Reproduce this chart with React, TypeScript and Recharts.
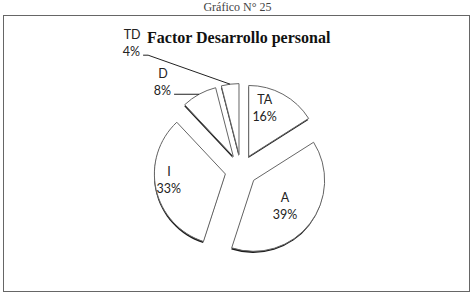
import React from 'react';
import { PieChart, Pie, Cell } from 'recharts';

const categories = ['TA', 'A', 'I', 'D', 'TD'];
const percents = [16, 39, 33, 8, 4];

const data = categories.map((name, i) => ({ name, value: percents[i] }));

const CENTER_X = 236;
const CENTER_Y = 165.5;
const RADIUS = 71;
const EXPLODE = 16;
const SHADOW = { dx: -0.4, dy: 1.6 };
const INSIDE_SHIFT = { dx: -8, dy: -5 };

const total = percents.reduce((a, b) => a + b, 0);

// clockwise angle (from 12 o'clock) of each slice's middle
const midClock = (i: number) => {
  const before = percents.slice(0, i).reduce((a, b) => a + b, 0);
  return ((before + percents[i] / 2) / total) * 360;
};

const offsetOf = (i: number) => {
  const a = (midClock(i) * Math.PI) / 180;
  return { dx: EXPLODE * Math.sin(a), dy: -EXPLODE * Math.cos(a) };
};

// outside labels for the small slices: leader end relative to the slice's outer point
const leaders: Record<string, { dx: number; dy: number; tail: number }> = {
  D: { dx: -25, dy: 0, tail: 0 },
  TD: { dx: -82, dy: -29, tail: 5 },
};

const labelFont = { fontFamily: 'Lato, "Open Sans", sans-serif', fontSize: 12.5, fill: '#222' };

const makeLabel = (layer: number) => (props: any) => {
  const { cx, cy, midAngle, outerRadius, index, name, value } = props;
  if (index !== layer) return null;
  const rad = Math.PI / 180;
  const cos = Math.cos(-midAngle * rad);
  const sin = Math.sin(-midAngle * rad);
  const lead = leaders[name];
  if (!lead) {
    const x = cx + outerRadius * 0.7 * cos + INSIDE_SHIFT.dx;
    const y = cy + outerRadius * 0.7 * sin + INSIDE_SHIFT.dy;
    return (
      <g>
        <text x={x} y={y - 8} textAnchor="middle" dominantBaseline="central" {...labelFont}>{name}</text>
        <text x={x} y={y + 9} textAnchor="middle" dominantBaseline="central" {...labelFont}>{`${value}%`}</text>
      </g>
    );
  }
  const ox = cx + outerRadius * cos;
  const oy = cy + outerRadius * sin;
  const ex = ox + lead.dx;
  const ey = oy + lead.dy;
  const pts = `${ox},${oy} ${ex},${ey} ${ex - lead.tail},${ey}`;
  const tx = ex - lead.tail - 3;
  return (
    <g>
      <polyline points={pts} fill="none" stroke="#222" strokeWidth={1} />
      <text x={tx - 8} y={ey - 21} textAnchor="middle" dominantBaseline="central" {...labelFont}>{name}</text>
      <text x={tx} y={ey - 4} textAnchor="end" dominantBaseline="central" {...labelFont}>{`${value}%`}</text>
    </g>
  );
};

const App: React.FC = () => {
  return (
    <div style={{ position: 'absolute', left: 0, top: 0, width: 475, height: 302, background: '#fff', overflow: 'hidden' }}>
      <div
        style={{
          position: 'absolute', left: 0, width: 475, top: 1, textAlign: 'center',
          fontFamily: '"Liberation Serif", serif', fontSize: 12, lineHeight: '12px', color: '#444',
        }}
      >
        Gráfico N° 25
      </div>
      <div style={{ position: 'absolute', left: 3, top: 15, width: 465, height: 275, border: '1px solid #666' }} />
      <div
        style={{
          position: 'absolute', left: 147, top: 30, fontFamily: '"Liberation Serif", serif',
          fontWeight: 'bold', fontSize: 16, lineHeight: '16px', color: '#111', whiteSpace: 'nowrap',
        }}
      >
        Factor Desarrollo personal
      </div>
      <div style={{ position: 'absolute', left: 0, top: 0 }}>
        <PieChart width={475} height={302}>
          {categories.map((c, j) => {
            const o = offsetOf(j);
            return (
              <Pie
                key={`shadow-${c}`}
                data={data}
                dataKey="value"
                nameKey="name"
                cx={CENTER_X + o.dx + SHADOW.dx}
                cy={CENTER_Y + o.dy + SHADOW.dy}
                outerRadius={RADIUS}
                startAngle={90}
                endAngle={-270}
                isAnimationActive={false}
                labelLine={false}
              >
                {data.map((d, i) => (
                  <Cell key={d.name} fill={i === j ? '#1a1a1a' : 'none'} stroke="none" />
                ))}
              </Pie>
            );
          })}
          {categories.map((c, j) => {
            const o = offsetOf(j);
            return (
              <Pie
                key={`slice-${c}`}
                data={data}
                dataKey="value"
                nameKey="name"
                cx={CENTER_X + o.dx}
                cy={CENTER_Y + o.dy}
                outerRadius={RADIUS}
                startAngle={90}
                endAngle={-270}
                isAnimationActive={false}
                labelLine={false}
                label={makeLabel(j)}
              >
                {data.map((d, i) => (
                  <Cell key={d.name} fill={i === j ? '#fff' : 'none'} stroke={i === j ? '#666' : 'none'} strokeWidth={1} />
                ))}
              </Pie>
            );
          })}
        </PieChart>
      </div>
    </div>
  );
};

export default App;
